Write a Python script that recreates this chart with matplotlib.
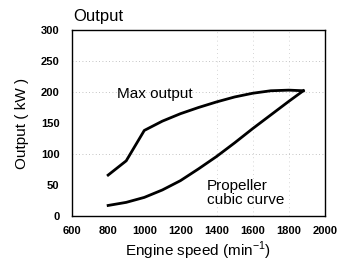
import matplotlib
matplotlib.use("Agg")
import matplotlib.pyplot as plt

plt.rcParams['font.family'] = ['Liberation Sans', 'DejaVu Sans']

max_rpm = [800, 900, 1000, 1100, 1200, 1300, 1400, 1500, 1600, 1700, 1800, 1880]
max_kw = [66, 89, 138, 153, 165, 175, 184, 192, 198, 202, 203, 202]
prop_rpm = [800, 900, 1000, 1100, 1200, 1300, 1400, 1500, 1600, 1700, 1800, 1880]
prop_kw = [17, 22, 30, 42, 57, 76, 96, 118, 141, 163, 185, 202]
xticks = [600, 800, 1000, 1200, 1400, 1600, 1800, 2000]
yticks = [0, 50, 100, 150, 200, 250, 300]

fig = plt.figure(figsize=(3.53, 2.62), dpi=100)
ax = fig.add_axes([72/353, 1-216/262, (325-72)/353, (216-30)/262])
for y in [100, 200, 250]:
    ax.axhline(y, color='#b0b0b0', lw=0.6, ls=(0, (1, 3)), zorder=0)
for x in [1400, 1600, 1800]:
    ax.axvline(x, color='#c8c8c8', lw=0.6, ls=(0, (1, 4)), zorder=0)
ax.plot(max_rpm, max_kw, color='black', lw=2)
ax.plot(prop_rpm, prop_kw, color='black', lw=2)
ax.set_xlim(600, 2000)
ax.set_ylim(0, 300)
ax.set_xticks(xticks)
ax.set_yticks(yticks)
ax.tick_params(length=0)
ax.tick_params(axis='x', pad=7)
ax.tick_params(axis='y', pad=9)
for lbl in ax.get_xticklabels() + ax.get_yticklabels():
    lbl.set_family(['Liberation Sans Narrow', 'Liberation Sans'])
    lbl.set_fontsize(8)
    lbl.set_fontweight('bold')
for s in ax.spines.values():
    s.set_linewidth(1.0)
ax.set_xlabel('Engine speed (min$^{\\mathregular{-1}}$)', fontsize=11)
ax.set_ylabel('Output ( kW )', fontsize=11)
ax.xaxis.set_label_coords(0.5, -0.13)
ax.yaxis.set_label_coords(-0.17, 0.5)
fig.text(73/353, 1-17/262, 'Output', fontsize=12, va='center', ha='left')
ax.text(847, 197, 'Max output', fontsize=11, va='center', ha='left')
ax.text(1347, 37, 'Propeller\ncubic curve', fontsize=11, va='center', ha='left', linespacing=0.95)
fig.savefig('out.png', dpi=100)
